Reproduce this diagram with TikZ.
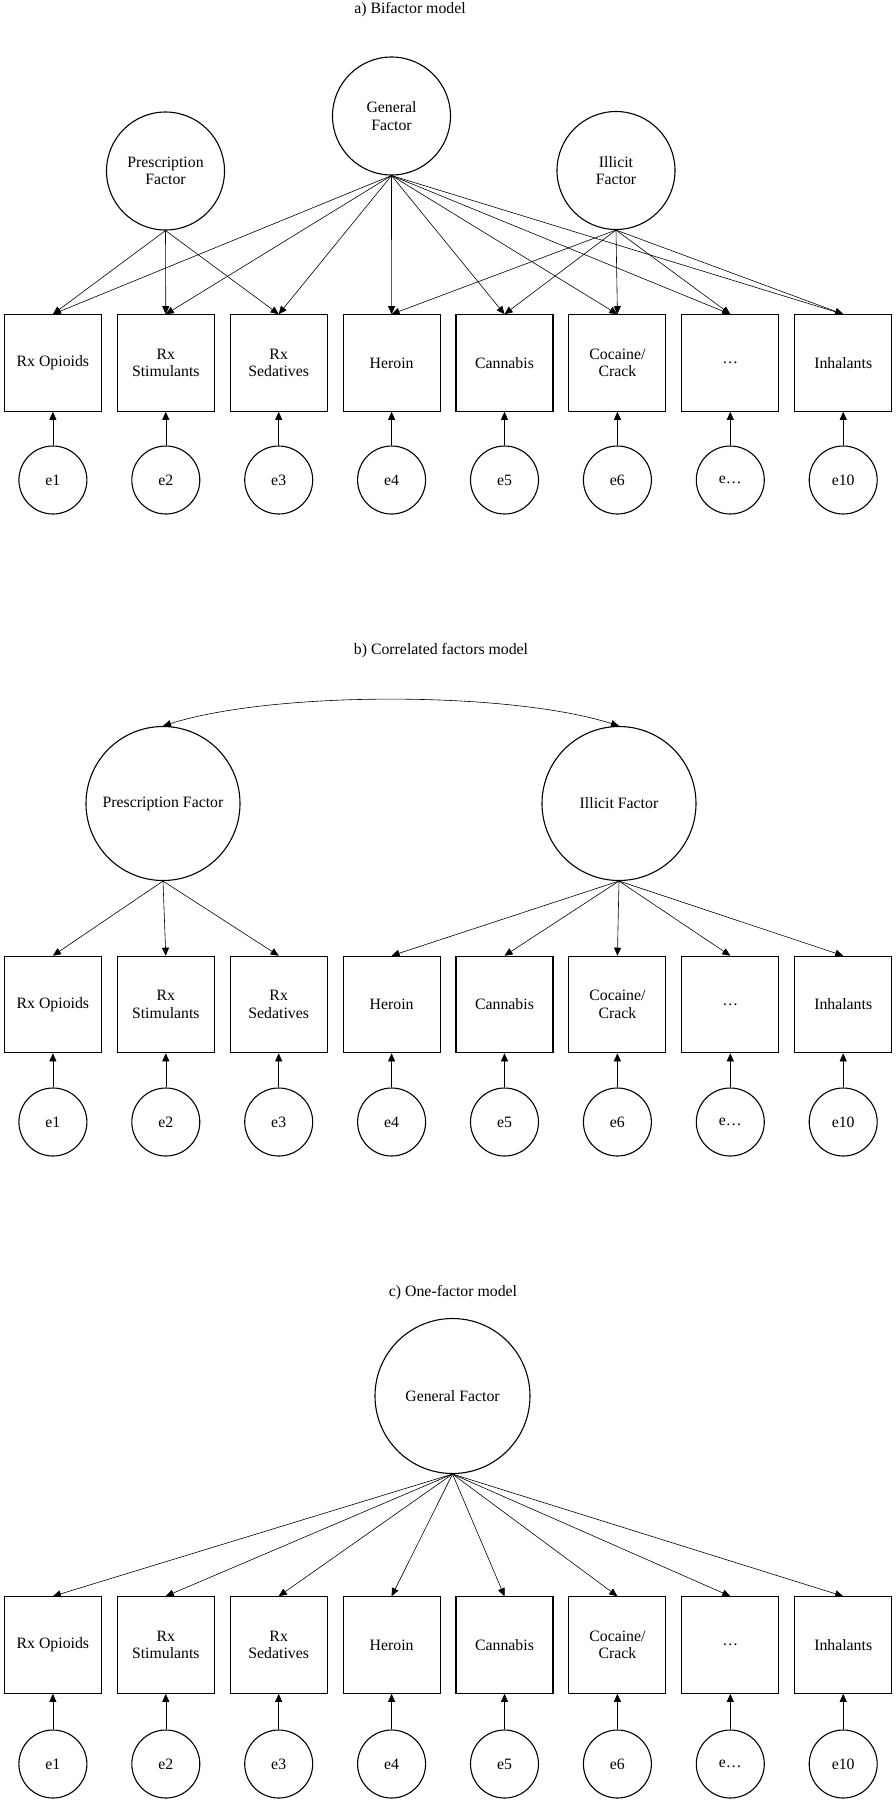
\documentclass[tikz,border=0pt]{standalone}
\usepackage{fontspec}
\setmainfont{Liberation Serif}
\usetikzlibrary{arrows.meta,calc}
\tikzset{
  txt/.style={font=\fontsize{15.8}{17.5}\selectfont},
  obs/.style={txt,draw,line width=1.1pt,minimum width=97pt,minimum height=96.5pt,inner sep=0pt,align=center},
  err/.style={txt,draw,circle,line width=1.1pt,minimum size=68pt,inner sep=0pt},
  lat/.style={txt,draw,circle,line width=1.1pt,inner sep=0pt,align=center},
  arr/.style={line width=0.6pt,-{Triangle[length=8pt,width=7pt]}},
  dbl/.style={line width=0.6pt,{Triangle[length=8pt,width=7pt]}-{Triangle[length=8pt,width=7pt]}},
  ttl/.style={txt}
}
\newcommand{\mvrow}[3]{%
  \node[obs] (#1x1) at (52.9,#2) {Rx Opioids};
  \node[obs] (#1x2) at (165.8,#2) {Rx\\Stimulants};
  \node[obs] (#1x3) at (278.7,#2) {Rx\\Sedatives};
  \node[obs] (#1x4) at (391.6,#2) {Heroin};
  \node[obs] (#1x5) at (504.5,#2) {Cannabis};
  \node[obs] (#1x6) at (617.4,#2) {Cocaine/\\Crack};
  \node[obs] (#1x7) at (730.3,#2) {…};
  \node[obs] (#1x8) at (843.2,#2) {Inhalants};
  \node[err] (#1e1) at (52.9,#3) {e1};
  \node[err] (#1e2) at (165.8,#3) {e2};
  \node[err] (#1e3) at (278.7,#3) {e3};
  \node[err] (#1e4) at (391.6,#3) {e4};
  \node[err] (#1e5) at (504.5,#3) {e5};
  \node[err] (#1e6) at (617.4,#3) {e6};
  \node[err] (#1e7) at (730.3,#3) {e…};
  \node[err] (#1e8) at (843.2,#3) {e10};
  \foreach \k in {1,...,8} {\draw[arr] (#1e\k) -- (#1x\k);}
}
\begin{document}
\begin{tikzpicture}[x=1pt,y=-1pt]
\fill[white] (0,0) rectangle (896,1800);
\useasboundingbox (0,0) rectangle (896,1800);

% ---------- a) Bifactor model ----------
\node[ttl] (ta) at (410,10) {a) Bifactor model};
\node[lat,minimum size=118pt] (aG) at (391.5,116) {General\\Factor};
\node[lat,minimum size=118pt] (aP) at (165.5,171) {Prescription\\Factor};
\node[lat,minimum size=118pt] (aI) at (616,170.5) {Illicit\\Factor};
\mvrow{a}{363}{480}
\foreach \k in {1,...,8} {\draw[arr] (aG.south) -- (ax\k.north);}
\foreach \k in {1,2,3} {\draw[arr] (aP.south) -- (ax\k.north);}
\foreach \k in {4,...,8} {\draw[arr] (aI.south) -- (ax\k.north);}

% ---------- b) Correlated factors model ----------
\node[ttl] (tb) at (441,651) {b) Correlated factors model};
\node[lat,minimum size=154pt] (bP) at (163,803.5) {Prescription Factor};
\node[lat,minimum size=154pt] (bI) at (619,803.5) {Illicit Factor};
\mvrow{b}{1004.5}{1122}
\draw[dbl] (bP.north) .. controls ($(bP.north)+(110,-35)$) and ($(bI.north)+(-110,-35)$) .. (bI.north);
\foreach \k in {1,2,3} {\draw[arr] (bP.south) -- (bx\k.north);}
\foreach \k in {4,...,8} {\draw[arr] (bI.south) -- (bx\k.north);}

% ---------- c) One-factor model ----------
\node[ttl] (tc) at (453,1293) {c) One-factor model};
\node[lat,minimum size=155pt] (cG) at (452.5,1396) {General Factor};
\mvrow{c}{1645}{1764}
\foreach \k in {1,...,8} {\draw[arr] (cG.south) -- (cx\k.north);}
\end{tikzpicture}
\end{document}
